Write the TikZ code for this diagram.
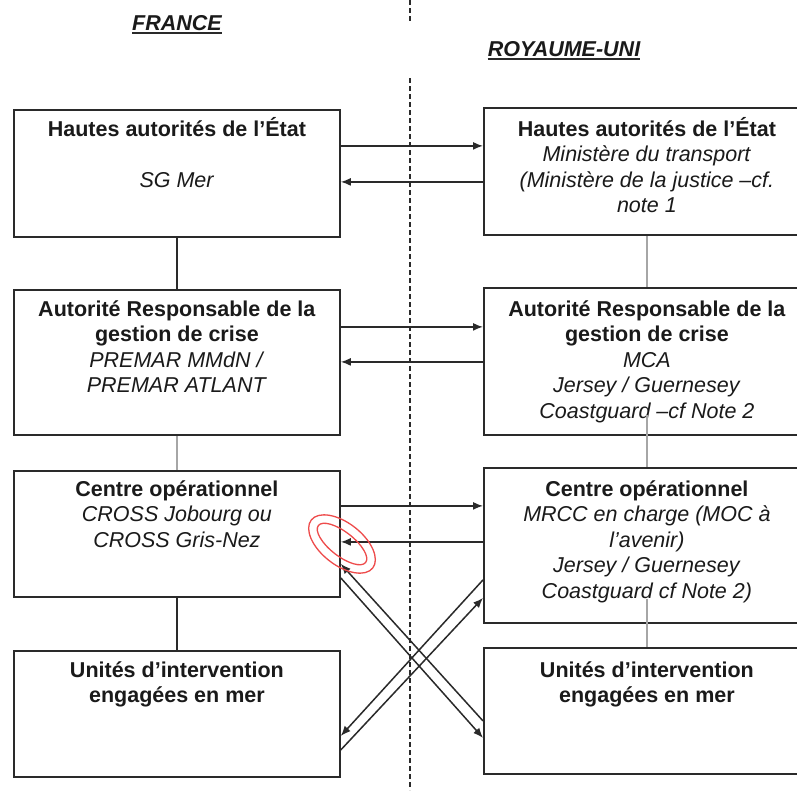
\documentclass[tikz,border=0pt]{standalone}
\usepackage{fontspec}
\setmainfont{Liberation Sans}
\usetikzlibrary{arrows.meta,positioning}
\definecolor{inkc}{HTML}{1A1A1A}
\definecolor{linec}{HTML}{2A2A2A}
\definecolor{greyc}{HTML}{A6A6A6}
\definecolor{markc}{HTML}{EE4B4B}
\tikzset{
  box/.style={rectangle, draw=linec, line width=1.8pt, anchor=north west,
              minimum width=326pt, inner sep=0pt},
  txt/.style={align=center, inner sep=0pt, text=inkc,
              font=\fontsize{21.5}{25.5}\selectfont},
  head/.style={inner sep=0pt, anchor=base, text=inkc,
               font=\fontsize{21.5}{25.5}\selectfont\bfseries\itshape},
  fl/.style={-{Latex[length=10pt,width=8pt]}, line width=1.5pt, draw=linec},
  ln/.style={line width=1.5pt, draw=linec},
  lng/.style={line width=1.5pt, draw=greyc},
}
\newcommand{\tp}{\rule{0pt}{20pt}}

\begin{document}
\begin{tikzpicture}[x=1pt,y=1pt]
  \clip (0,0) rectangle (797,-790);
  \fill[white] (0,0) rectangle (797,-790);
  % headings
  \node[head] (fr) at (177,-30) {FRANCE};
  \node[head] (uk) at (564,-56) {ROYAUME-UNI};
  \draw[line width=2.2pt, linec] ([yshift=-3pt]fr.base west) -- ([yshift=-3pt]fr.base east);
  \draw[line width=2.2pt, linec] ([yshift=-3pt]uk.base west) -- ([yshift=-3pt]uk.base east);
  % divider
  \draw[linec, line width=1.2pt, dash pattern=on 5pt off 3pt]
    (410,0) -- (410,-22) (410,-78) -- (410,-790);

  % boxes
  \node[box, minimum height=127pt] (hautFR) at (13,-109) {};
  \node[box, minimum height=127pt] (hautUK) at (483,-107) {};
  \node[box, minimum height=145pt] (autFR) at (13,-289) {};
  \node[box, minimum height=147pt] (autUK) at (483,-287) {};
  \node[box, minimum height=126pt] (opFR) at (13,-470) {};
  \node[box, minimum height=155pt] (opUK) at (483,-467) {};
  \node[box, minimum height=126pt] (unFR) at (13,-650) {};
  \node[box, minimum height=126pt] (unUK) at (483,-647) {};

  % texts
  \node[txt, below=7pt of hautFR.north] (hautFRt)
    {\tp\textbf{Hautes autorités de l’État}\\[25.5pt]\textit{SG Mer}};
  \node[txt, below=9pt of hautUK.north] (hautUKt)
    {\tp\textbf{Hautes autorités de l’État}\\\textit{Ministère du transport}\\
     \textit{(Ministère de la justice –cf.}\\\textit{note 1}};
  \node[txt, below=7pt of autFR.north] (autFRt)
    {\tp\textbf{Autorité Responsable de la}\\\textbf{gestion de crise}\\
     \textit{PREMAR MMdN /}\\\textit{PREMAR ATLANT}};
  \node[txt, below=9pt of autUK.north] (autUKt)
    {\tp\textbf{Autorité Responsable de la}\\\textbf{gestion de crise}\\
     \textit{MCA}\\\textit{Jersey / Guernesey}\\\textit{Coastguard –cf Note 2}};
  \node[txt, below=6pt of opFR.north] (opFRt)
    {\tp\textbf{Centre opérationnel}\\\textit{CROSS Jobourg ou}\\\textit{CROSS Gris-Nez}};
  \node[txt, below=9pt of opUK.north] (opUKt)
    {\tp\textbf{Centre opérationnel}\\\textit{MRCC en charge (MOC à}\\
     \textit{l’avenir)}\\\textit{Jersey / Guernesey}\\\textit{Coastguard cf Note 2)}};
  \node[txt, below=7pt of unFR.north] (unFRt)
    {\tp\textbf{Unités d’intervention}\\\textbf{engagées en mer}};
  \node[txt, below=10pt of unUK.north] (unUKt)
    {\tp\textbf{Unités d’intervention}\\\textbf{engagées en mer}};

  % hierarchy
  \draw[ln] (hautFR) -- (autFR);
  \draw[lng] (autFR) -- (opFR);
  \draw[ln] (opFR) -- (unFR);
  \draw[lng] (hautUK) -- (autUK);
  \draw[lng] ([yshift=21pt]autUK.south) -- (opUK.north);
  \draw[lng] ([yshift=25pt]opUK.south) -- (unUK.north);

  % exchanges
  \draw[fl] ([yshift=27.5pt]hautFR.east) -- ([yshift=27.5pt]hautFR.east -| hautUK.west);
  \draw[fl] ([yshift=-8.5pt]hautFR.east -| hautUK.west) -- ([yshift=-8.5pt]hautFR.east);
  \draw[fl] ([yshift=35.5pt]autFR.east) -- ([yshift=35.5pt]autFR.east -| autUK.west);
  \draw[fl] ([yshift=0.5pt]autFR.east -| autUK.west) -- ([yshift=0.5pt]autFR.east);
  \draw[fl] ([yshift=28pt]opFR.east) -- ([yshift=28pt]opFR.east -| opUK.west);
  \draw[fl] ([yshift=-8pt]opFR.east -| opUK.west) -- ([yshift=-8pt]opFR.east);
  \draw[fl] ([yshift=-10pt]unUK.west) -- ([yshift=-30pt]opFR.east);
  \draw[fl] ([yshift=-44pt]opFR.east) -- ([yshift=-27pt]unUK.west);
  \draw[fl] ([yshift=-34.5pt]opUK.west) -- ([yshift=-22pt]unFR.east);
  \draw[fl] ([yshift=-36pt]unFR.east) -- ([yshift=-52.5pt]opUK.west);

  % mark
  \draw[markc, line width=1.3pt, rotate around={-38:(342,-544)}]
    (342,-544) ellipse [x radius=39, y radius=21];
  \draw[markc, line width=1.3pt, rotate around={-38:(342,-544)}]
    (342,-544) ellipse [x radius=30, y radius=12];
\end{tikzpicture}
\end{document}
